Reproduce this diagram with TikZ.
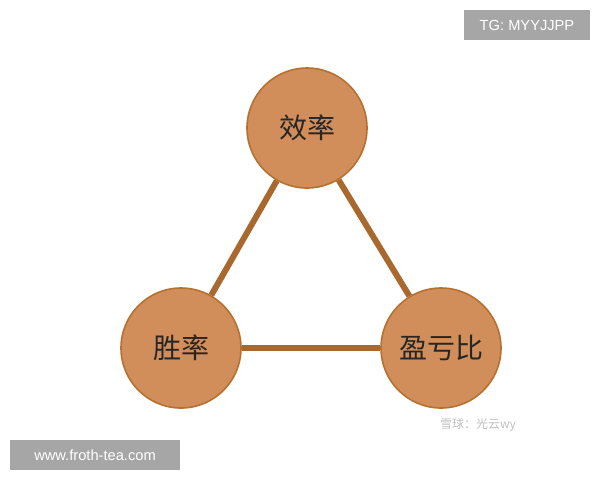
\documentclass[tikz,border=0pt]{standalone}
\usepackage{fontspec}
\newfontfamily\cjk{Noto Sans CJK SC}
\setmainfont{Liberation Sans}
\definecolor{ballfill}{HTML}{D18E5A}
\definecolor{balledge}{HTML}{B5712F}
\definecolor{linkcol}{HTML}{A9692E}
\definecolor{tagbg}{HTML}{A6A6A6}
\begin{document}
\begin{tikzpicture}[x=0.75pt,y=-0.75pt,
  ball/.style={circle,draw=balledge,line width=1.2pt,fill=ballfill,minimum size=90pt,inner sep=0pt,font=\cjk\fontsize{21}{21}\selectfont,text=black!85},
  link/.style={draw=linkcol,line width=4.5pt},
  tag/.style={fill=tagbg,text=white,font=\fontsize{11}{13}\selectfont,inner sep=0pt}]
\useasboundingbox (0,0) rectangle (600,480);
\node[ball] (e) at (307,128) {效率};
\node[ball] (w) at (181,348) {胜率};
\node[ball] (p) at (441,348) {盈亏比};
\draw[link] (e) -- (w);
\draw[link] (e) -- (p);
\draw[link] (w) -- (p);
\node[tag,minimum width=94pt,minimum height=23pt] (tg) at (527,25) {TG: MYYJJPP};
\node[tag,minimum width=128pt,minimum height=23pt] (web) at (95,455) {www.froth-tea.com};
\node[text=black!25,font=\cjk\fontsize{9}{9}\selectfont] (wm) at (478,425) {雪球：光云wy};
\end{tikzpicture}
\end{document}
